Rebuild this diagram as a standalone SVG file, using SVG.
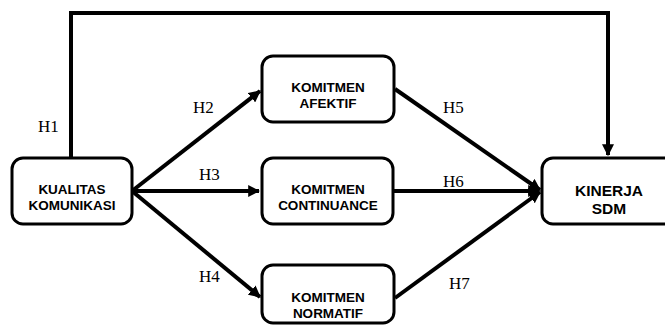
<svg xmlns="http://www.w3.org/2000/svg" width="665" height="326" viewBox="0 0 665 326">
<defs>
<style>
.box{fill:#fff;stroke:#000;stroke-width:3}
.t{font-family:"Liberation Sans",Arial,sans-serif;font-weight:bold;font-size:13.5px;text-anchor:middle;fill:#000}
.tb{font-size:15.5px}
.lab{font-family:"Liberation Serif","Times New Roman",serif;font-size:17px;fill:#000}
.c{fill:none;stroke:#000;stroke-width:4}
</style>
<marker id="ah" viewBox="0 0 10 10" refX="9" refY="5" markerWidth="3" markerHeight="3" orient="auto" markerUnits="strokeWidth">
<path d="M0,0 L10,5 L0,10 Z" fill="#000"/>
</marker>
</defs>
<rect width="665" height="326" fill="#fff"/>
<g id="connectors">
<path class="c" d="M71,158 V13 H608 V155" marker-end="url(#ah)"/>
<line class="c" x1="132" y1="191" x2="260" y2="91" marker-end="url(#ah)"/>
<line class="c" x1="132" y1="191" x2="259" y2="191" marker-end="url(#ah)"/>
<line class="c" x1="132" y1="191" x2="260" y2="297" marker-end="url(#ah)"/>
<line class="c" x1="395" y1="89" x2="540" y2="190" marker-end="url(#ah)"/>
<line class="c" x1="393" y1="191" x2="539" y2="191" marker-end="url(#ah)"/>
<line class="c" x1="395" y1="298" x2="540" y2="192" marker-end="url(#ah)"/>
<text class="lab" x="38" y="132">H1</text>
<text class="lab" x="193" y="113">H2</text>
<text class="lab" x="199" y="180">H3</text>
<text class="lab" x="199" y="282">H4</text>
<text class="lab" x="443" y="113">H5</text>
<text class="lab" x="443" y="187">H6</text>
<text class="lab" x="449" y="289">H7</text>
</g>
<g id="kualitas">
<rect class="box" x="12" y="158" width="120" height="66" rx="11"/>
<text class="t" x="72" y="194">KUALITAS</text>
<text class="t" x="72" y="210">KOMUNIKASI</text>
</g>
<g id="afektif">
<rect class="box" x="262" y="56" width="132" height="66" rx="11"/>
<text class="t" x="328" y="92">KOMITMEN</text>
<text class="t" x="328" y="108">AFEKTIF</text>
</g>
<g id="continuance">
<rect class="box" x="262" y="158" width="131" height="66" rx="11"/>
<text class="t" x="328" y="194">KOMITMEN</text>
<text class="t" x="328" y="210">CONTINUANCE</text>
</g>
<g id="normatif">
<rect class="box" x="262" y="265" width="132" height="58" rx="11"/>
<text class="t" x="328" y="302">KOMITMEN</text>
<text class="t" x="328" y="318">NORMATIF</text>
</g>
<g id="kinerja">
<rect class="box" x="542" y="158" width="134" height="66" rx="11"/>
<text class="t tb" x="609" y="196">KINERJA</text>
<text class="t tb" x="609" y="214">SDM</text>
</g>
</svg>
